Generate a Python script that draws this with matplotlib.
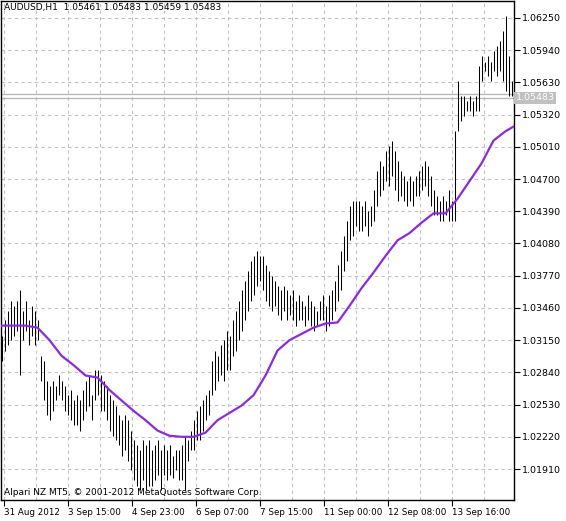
import matplotlib
matplotlib.use("Agg")
import matplotlib.pyplot as plt
import numpy as np

# prices in pips (price*10000)
highs = [10319,10334,10343,10353,10348,10353,10363,10343,10353,10334,
         10348,10343,10334,10300,10295,10276,10271,10276,10271,10281,
         10276,10271,10262,10267,10257,10262,10257,10267,10276,10281,
         10262,10286,10286,10281,10276,10271,10262,10257,10252,10243,
         10238,10243,10238,10228,10219,10214,10209,10219,10214,10219,
         10209,10214,10219,10209,10214,10209,10214,10204,10209,10209,
         10214,10223,10219,10228,10238,10247,10252,10257,10262,10267,
         10295,10305,10300,10310,10315,10324,10319,10334,10343,10353,
         10363,10372,10382,10391,10396,10401,10396,10396,10387,10382,
         10377,10372,10367,10363,10367,10363,10358,10363,10353,10358,
         10353,10348,10358,10353,10348,10343,10353,10358,10348,10358,
         10363,10372,10387,10401,10415,10430,10444,10449,10449,10449,
         10444,10449,10439,10444,10459,10478,10487,10483,10497,10502,
         10507,10497,10487,10478,10473,10468,10473,10468,10473,10478,
         10483,10487,10483,10473,10459,10454,10449,10454,10449,10459,
         10449,10516,10564,10550,10550,10545,10550,10545,10550,10579,
         10588,10583,10588,10583,10593,10598,10603,10612,10627,10588,10564,10559]
lows = [10295,10305,10310,10315,10319,10324,10281,10315,10324,10310,
        10319,10310,10315,10276,10257,10243,10238,10247,10257,10262,
        10257,10247,10243,10238,10233,10233,10228,10238,10247,10252,
        10238,10257,10262,10247,10247,10238,10228,10223,10219,10214,
        10204,10209,10199,10190,10180,10175,10171,10180,10171,10175,
        10175,10180,10185,10171,10185,10180,10185,10182,10190,10180,
        10180,10171,10199,10209,10209,10219,10219,10228,10238,10243,
        10262,10267,10276,10281,10276,10286,10286,10300,10305,10315,
        10324,10334,10343,10353,10358,10367,10372,10363,10353,10348,
        10343,10348,10339,10334,10343,10334,10339,10334,10329,10334,
        10334,10329,10334,10329,10324,10329,10334,10334,10324,10329,
        10334,10343,10353,10363,10382,10391,10411,10415,10425,10420,
        10420,10425,10415,10425,10430,10444,10454,10459,10468,10463,
        10473,10459,10449,10454,10449,10444,10449,10444,10454,10454,
        10459,10463,10454,10444,10435,10435,10430,10430,10435,10430,
        10430,10430,10516,10526,10531,10535,10535,10531,10535,10535,
        10564,10574,10569,10564,10574,10569,10574,10564,10555,10550,10550,10547]
ma_bars = [0,4,8,12,16,20,24,28,32,36,40,44,48,52,56,60,64,68,72,76,80,84,88,92,96,
           100,104,108,112,116,120,124,128,132,136,140,144,148,152,156,160,164,168,171]
ma_vals = [10329,10329,10329,10327,10315,10300,10291,10281,10279,10267,10257,10247,10238,
           10228,10223,10222,10222,10226,10238,10245,10252,10262,10281,10305,10315,10321,
           10327,10331,10332,10348,10365,10380,10396,10411,10418,10428,10437,10437,10451,
           10468,10485,10507,10516,10521]
price_ticks = [1.01910,1.02220,1.02530,1.02840,1.03150,1.03460,1.03770,1.04080,
               1.04390,1.04700,1.05010,1.05320,1.05630,1.05940,1.06250]
date_labels = ["31 Aug 2012","3 Sep 15:00","4 Sep 23:00","6 Sep 07:00","7 Sep 15:00",
               "11 Sep 00:00","12 Sep 08:00","13 Sep 16:00"]
bid, ask = 1.05483, 1.05520

H = np.array(highs)/10000; L = np.array(lows)/10000
xs = np.arange(len(H))*3 + 1

fig = plt.figure(figsize=(5.66,5.21), dpi=100)
ax = fig.add_axes([0.5/566, 21/521, 513/566, 499/521])
ax.set_xlim(0, 513)
ax.set_ylim(1.01612, 1.06413)
gc = '#c0c0c0'
for p in price_ticks:
    ax.axhline(p, color=gc, ls=(0,(3,3)), lw=0.8, zorder=0)
for gx in np.arange(3, 513, 32):
    ax.axvline(gx, color=gc, ls=(0,(3,3)), lw=0.8, zorder=0)
ax.axhline(bid, color='#b4b4b4', lw=0.9, zorder=1)
ax.axhline(ask, color='#b4b4b4', lw=0.9, zorder=1)
ax.vlines(xs, L, H, color='black', lw=0.75, zorder=2)
ax.plot(np.array(ma_bars)*3+1, np.array(ma_vals)/10000, color='#8a2be2', lw=1.6, zorder=3)

ax.yaxis.tick_right()
ax.set_yticks(price_ticks)
ax.set_yticklabels([f"{p:.5f}" for p in price_ticks], fontsize=6.8)
ax.set_xticks([3+64*k for k in range(len(date_labels))])
ax.set_xticklabels(date_labels, fontsize=6.3, ha='left')
ax.tick_params(length=4, width=0.8, pad=2)
for s in ax.spines.values():
    s.set_linewidth(1)
ax.text(515, bid, f"{bid:.5f}", transform=ax.transData, fontsize=6.8, color='white',
        va='center', ha='left', clip_on=False,
        bbox=dict(boxstyle='square,pad=0.15', fc='#c0c0c0', ec='none'))
ax.text(4, 1.0635, "AUDUSD,H1  1.05461 1.05483 1.05459 1.05483", fontsize=6.5, va='center')
ax.text(4, 1.0168, "Alpari NZ MT5, © 2001-2012 MetaQuotes Software Corp.", fontsize=6.5, va='center')
fig.savefig("out.png", dpi=100)
